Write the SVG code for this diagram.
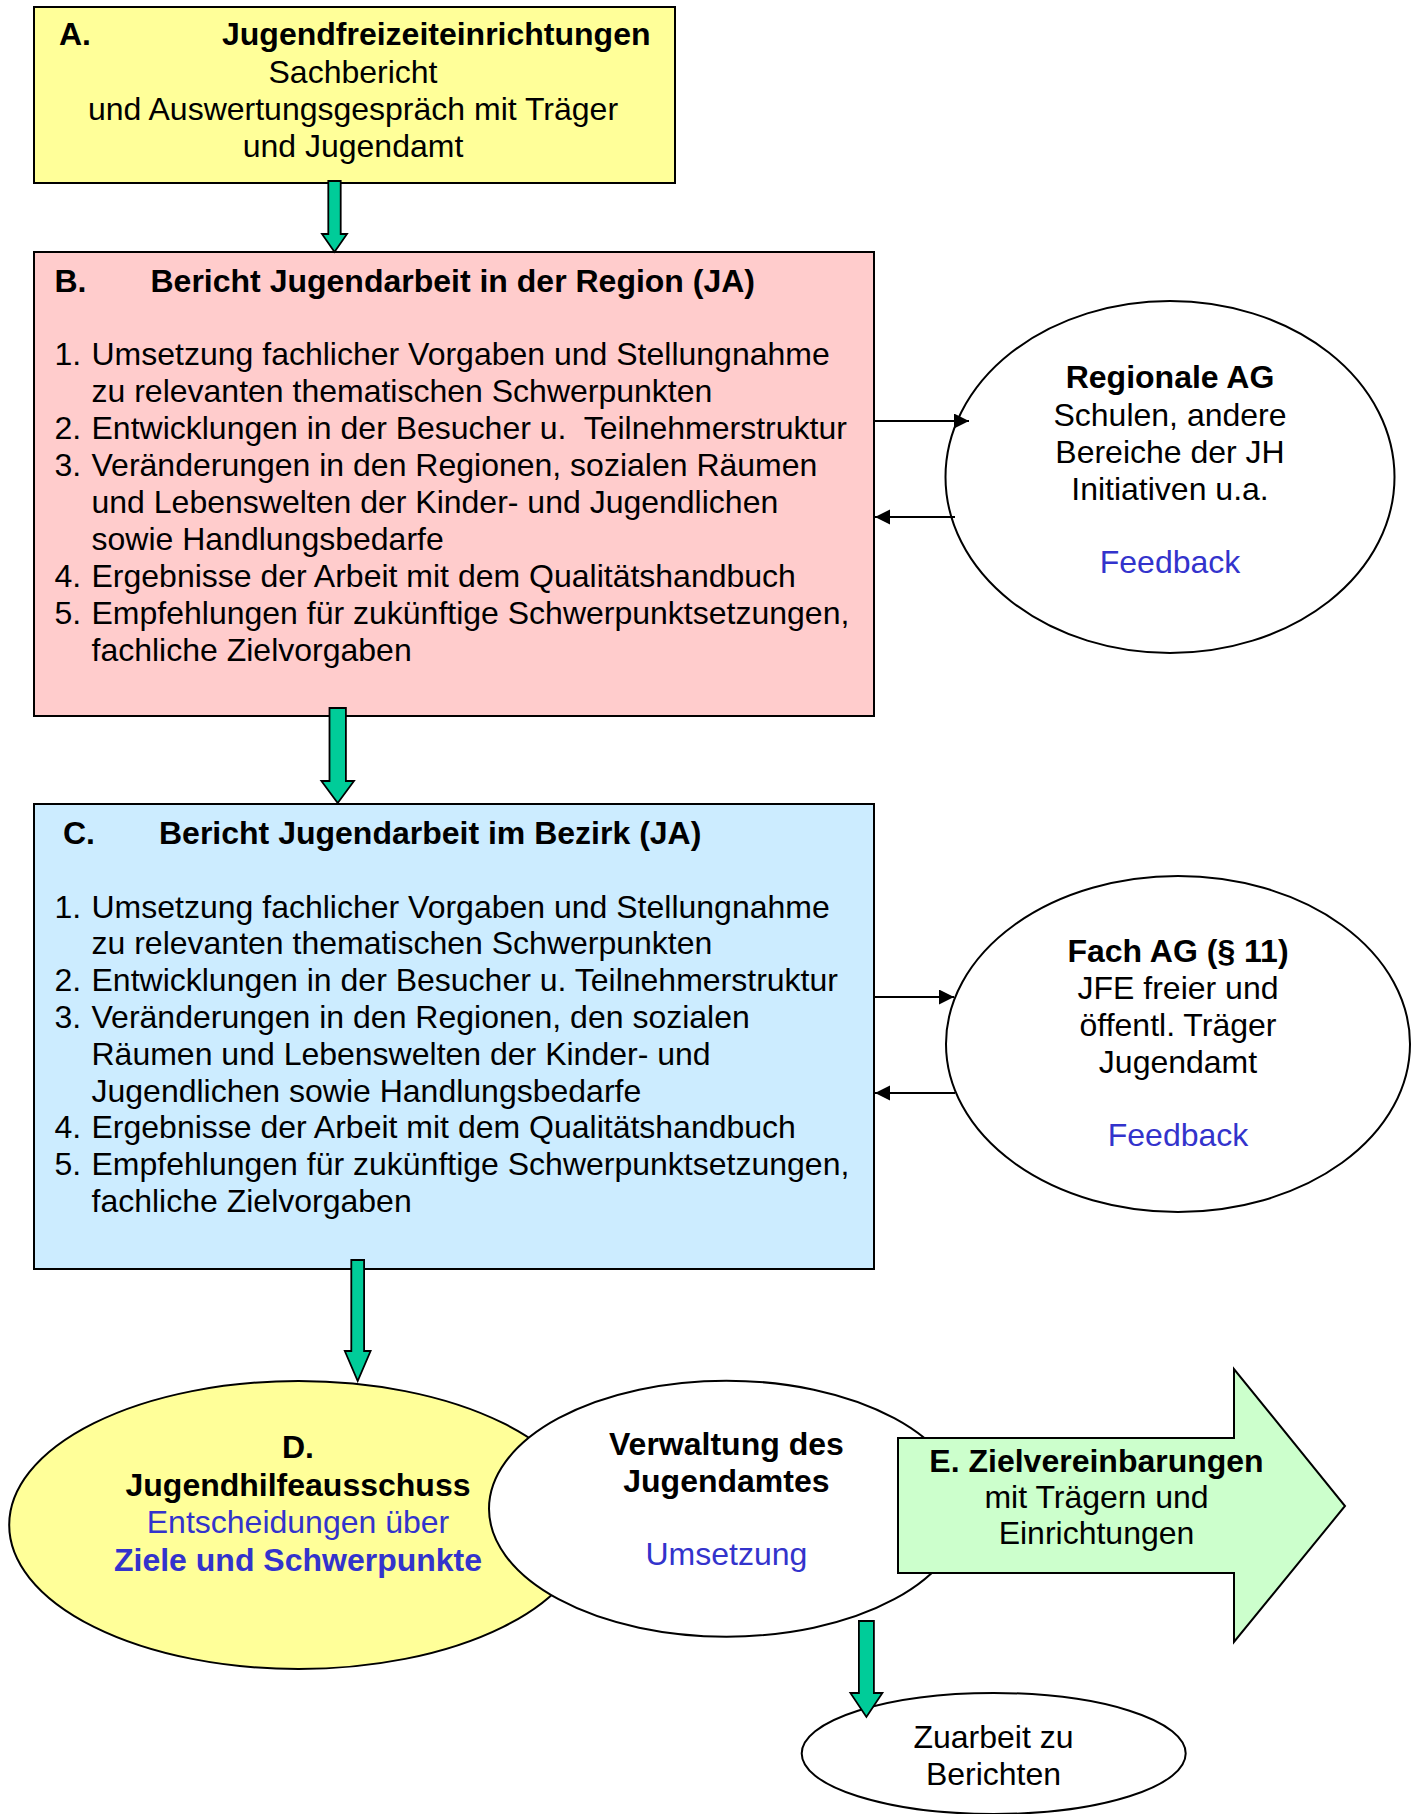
<svg xmlns="http://www.w3.org/2000/svg" width="1420" height="1814" viewBox="0 0 1420 1814">
<style>
text{font-family:"Liberation Sans",Arial,sans-serif;font-size:32px;fill:#000}
.b{font-weight:bold}
.c{text-anchor:middle}
.blue{fill:#3333CC}
.box{stroke:#000;stroke-width:2}
.ell{stroke:#000;stroke-width:2}
.green{fill:#00CC99;stroke:#000;stroke-width:1.8;stroke-linejoin:miter}
.line{stroke:#000;stroke-width:2;fill:none}
</style>
<defs>
<marker id="ah" markerUnits="userSpaceOnUse" markerWidth="16" markerHeight="16" refX="15" refY="7.5" orient="auto">
<path d="M0,0 L15,7.5 L0,15 Z" fill="#000"/>
</marker>
</defs>
<rect width="1420" height="1814" fill="#fff"/>

<g id="nodeA">
<rect class="box" x="34" y="7" width="641" height="176" fill="#FFFF99"/>
<text class="b" x="59" y="45">A.</text>
<text class="b" x="222" y="45">Jugendfreizeiteinrichtungen</text>
<text class="c" x="353" y="83">Sachbericht</text>
<text class="c" x="353" y="120">und Auswertungsgespräch mit Träger</text>
<text class="c" x="353" y="157">und Jugendamt</text>
</g>

<g id="nodeB">
<rect class="box" x="34" y="252" width="840" height="464" fill="#FFCCCC"/>
<text class="b" x="54.5" y="292">B.</text>
<text class="b" x="150.5" y="292">Bericht Jugendarbeit in der Region (JA)</text>
<text x="54.5" y="365">1.</text><text x="91.5" y="365">Umsetzung fachlicher Vorgaben und Stellungnahme</text>
<text x="91.5" y="402">zu relevanten thematischen Schwerpunkten</text>
<text x="54.5" y="439">2.</text><text x="91.5" y="439" xml:space="preserve" style="white-space:pre">Entwicklungen in der Besucher u.  Teilnehmerstruktur</text>
<text x="54.5" y="476">3.</text><text x="91.5" y="476">Veränderungen in den Regionen, sozialen Räumen</text>
<text x="91.5" y="513">und Lebenswelten der Kinder- und Jugendlichen</text>
<text x="91.5" y="550">sowie Handlungsbedarfe</text>
<text x="54.5" y="587">4.</text><text x="91.5" y="587">Ergebnisse der Arbeit mit dem Qualitätshandbuch</text>
<text x="54.5" y="624">5.</text><text x="91.5" y="624">Empfehlungen für zukünftige Schwerpunktsetzungen,</text>
<text x="91.5" y="661">fachliche Zielvorgaben</text>
</g>

<g id="nodeRegionaleAG">
<ellipse class="ell" cx="1170" cy="477" rx="224.5" ry="176" fill="#fff"/>
<text class="c b" x="1170" y="388">Regionale AG</text>
<text class="c" x="1170" y="426">Schulen, andere</text>
<text class="c" x="1170" y="463">Bereiche der JH</text>
<text class="c" x="1170" y="500">Initiativen u.a.</text>
<text class="c blue" x="1170" y="573">Feedback</text>
</g>

<g id="nodeC">
<rect class="box" x="34" y="804" width="840" height="465" fill="#CCECFF"/>
<text class="b" x="63" y="844">C.</text>
<text class="b" x="159" y="844">Bericht Jugendarbeit im Bezirk (JA)</text>
<text x="54.5" y="917.5">1.</text><text x="91.5" y="917.5">Umsetzung fachlicher Vorgaben und Stellungnahme</text>
<text x="91.5" y="954.3">zu relevanten thematischen Schwerpunkten</text>
<text x="54.5" y="991.1">2.</text><text x="91.5" y="991.1">Entwicklungen in der Besucher u. Teilnehmerstruktur</text>
<text x="54.5" y="1027.9">3.</text><text x="91.5" y="1027.9">Veränderungen in den Regionen, den sozialen</text>
<text x="91.5" y="1064.7">Räumen und Lebenswelten der Kinder- und</text>
<text x="91.5" y="1101.5">Jugendlichen sowie Handlungsbedarfe</text>
<text x="54.5" y="1138.3">4.</text><text x="91.5" y="1138.3">Ergebnisse der Arbeit mit dem Qualitätshandbuch</text>
<text x="54.5" y="1175.1">5.</text><text x="91.5" y="1175.1">Empfehlungen für zukünftige Schwerpunktsetzungen,</text>
<text x="91.5" y="1211.9">fachliche Zielvorgaben</text>
</g>

<g id="nodeFachAG">
<ellipse class="ell" cx="1178" cy="1044" rx="232" ry="168" fill="#fff"/>
<text class="c b" x="1178" y="962">Fach AG (§ 11)</text>
<text class="c" x="1178" y="999">JFE freier und</text>
<text class="c" x="1178" y="1036">öffentl. Träger</text>
<text class="c" x="1178" y="1073">Jugendamt</text>
<text class="c blue" x="1178" y="1146">Feedback</text>
</g>

<g id="nodeD">
<ellipse class="ell" cx="298.6" cy="1525" rx="289.4" ry="144" fill="#FFFF99"/>
<text class="c b" x="298" y="1458">D.</text>
<text class="c b" x="298" y="1496">Jugendhilfeausschuss</text>
<text class="c blue" x="298" y="1533">Entscheidungen über</text>
<text class="c b blue" x="298" y="1571">Ziele und Schwerpunkte</text>
</g>

<g id="nodeVerwaltung">
<ellipse class="ell" cx="726.4" cy="1508.7" rx="237.4" ry="128" fill="#fff"/>
<text class="c b" x="726.4" y="1455">Verwaltung des</text>
<text class="c b" x="726.4" y="1492">Jugendamtes</text>
<text class="c blue" x="726.4" y="1565">Umsetzung</text>
</g>

<g id="nodeE">
<polygon class="box" points="898,1438 1234,1438 1234,1369 1345,1506 1234,1642 1234,1573 898,1573" fill="#CCFFCC"/>
<text class="c b" x="1096.5" y="1472">E. Zielvereinbarungen</text>
<text class="c" x="1096.5" y="1508">mit Trägern und</text>
<text class="c" x="1096.5" y="1544">Einrichtungen</text>
</g>

<g id="nodeZuarbeit">
<ellipse class="ell" cx="993.7" cy="1753.5" rx="192" ry="60.5" fill="#fff"/>
<text class="c" x="993.5" y="1748">Zuarbeit zu</text>
<text class="c" x="993.5" y="1785">Berichten</text>
</g>

<g id="connectors">
<path class="green" d="M328.3,181 L340.7,181 L340.7,234 L347,234 L334.5,252 L322,234 L328.3,234 Z"/>
<path class="green" d="M329.5,708 L345.9,708 L345.9,781 L354,781 L337.7,803 L321.4,781 L329.5,781 Z"/>
<path class="green" d="M351.3,1260 L364.1,1260 L364.1,1351 L370.6,1351 L357.7,1381 L344.8,1351 L351.3,1351 Z"/>
<path class="green" d="M858.9,1621 L873.9,1621 L873.9,1693 L882.4,1693 L866.4,1717 L850.4,1693 L858.9,1693 Z"/>
<line class="line" x1="874" y1="421" x2="969" y2="421" marker-end="url(#ah)"/>
<line class="line" x1="955" y1="517" x2="875" y2="517" marker-end="url(#ah)"/>
<line class="line" x1="874" y1="997" x2="954" y2="997" marker-end="url(#ah)"/>
<line class="line" x1="955" y1="1093" x2="875" y2="1093" marker-end="url(#ah)"/>
</g>
</svg>
